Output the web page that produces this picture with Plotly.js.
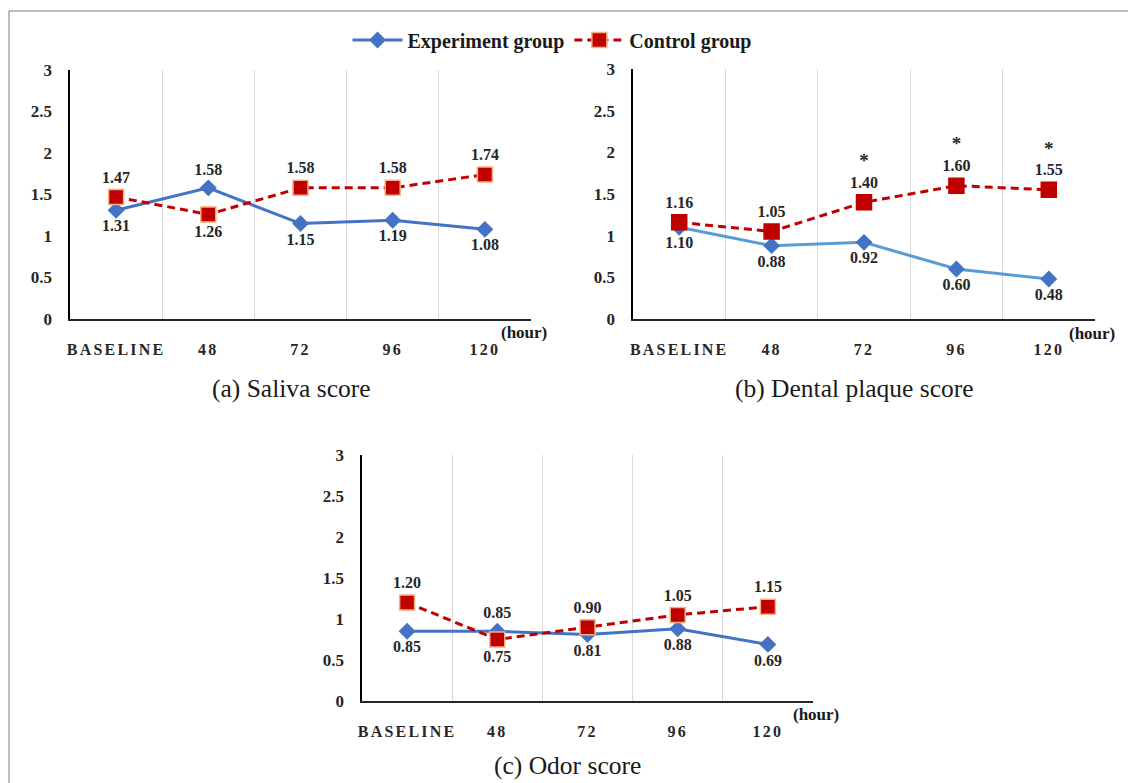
<!DOCTYPE html>
<html>
<head>
<meta charset="utf-8">
<script src="https://cdn.plot.ly/plotly-3.0.1.min.js"></script>
<style>
  html, body { margin: 0; padding: 0; background: #fff; }
  #chart { width: 1128px; height: 783px; }
  .xtick text, .x2tick text, .x3tick text { letter-spacing: 2.2px; }
</style>
</head>
<body>
<div id="chart"></div>
<script>
// ---- data ----
const categories = ["BASELINE", "48", "72", "96", "120"];
const salivaExp  = [1.31, 1.58, 1.15, 1.19, 1.08];
const salivaCtrl = [1.47, 1.26, 1.58, 1.58, 1.74];
const plaqueExp  = [1.10, 0.88, 0.92, 0.60, 0.48];
const plaqueCtrl = [1.16, 1.05, 1.40, 1.60, 1.55];
const plaqueSig  = ["", "", "*", "*", "*"];
const odorExp    = [0.85, 0.85, 0.81, 0.88, 0.69];
const odorCtrl   = [1.20, 0.75, 0.90, 1.05, 1.15];
const yTickVals  = [0, 0.5, 1, 1.5, 2, 2.5, 3];
const yTickText  = ["0", "0.5", "1", "1.5", "2", "2.5", "3"];
const seriesNames = ["Experiment group", "Control group"];
const panelTitles = ["(a) Saliva score", "(b) Dental plaque score", "(c) Odor score"];
const unitLabel = "(hour)";

// ---- label placement (style) ----
const T = "top center", B = "bottom center";
const posA = { exp: [B, T, B, B, B], ctrl: [T, B, T, T, T] };
const posB = { exp: [B, B, B, B, B], ctrl: [T, T, T, T, T] };
const posC = { exp: [B, T, B, B, B], ctrl: [T, B, T, T, T] };

const serif = "Liberation Serif, Times New Roman, serif";
const labelFont = { family: serif, size: 16, color: "#262626", weight: "bold" };

function fmt(arr) { return arr.map(v => v.toFixed(2)); }

function expTrace(vals, pos, ax, lineColor, show) {
  return {
    x: categories, y: vals, xaxis: "x" + ax, yaxis: "y" + ax,
    type: "scatter", mode: "lines+markers+text",
    name: seriesNames[0], showlegend: show, legendrank: 1,
    line: { color: lineColor, width: 3 },
    marker: { symbol: "diamond", size: 13, color: "#4472C4", line: { width: 0 } },
    text: fmt(vals), textposition: pos, textfont: labelFont,
    cliponaxis: false, hoverinfo: "x+y"
  };
}
function ctrlTrace(vals, pos, ax, border, show, sig) {
  const txt = fmt(vals).map((t, i) => (sig && sig[i]) ? "<span style='font-size:19px'>" + sig[i] + "</span><br>" + t : t);
  return {
    x: categories, y: vals, xaxis: "x" + ax, yaxis: "y" + ax,
    type: "scatter", mode: "lines+markers+text",
    name: seriesNames[1], showlegend: show, legendrank: 2,
    line: { color: "#C00000", width: 3, dash: "8px,5px" },
    marker: { symbol: "square", size: 15, color: "#C00000", line: { color: border, width: 1.5 } },
    text: txt, textposition: pos, textfont: labelFont,
    cliponaxis: false, hoverinfo: "x+y"
  };
}

const data = [
  expTrace(salivaExp, posA.exp, "", "#4472C4", true),
  ctrlTrace(salivaCtrl, posA.ctrl, "", "#F4B183", true, null),
  expTrace(plaqueExp, posB.exp, "2", "#5B9BD5", false),
  ctrlTrace(plaqueCtrl, posB.ctrl, "2", "#C00000", false, plaqueSig),
  expTrace(odorExp, posC.exp, "3", "#4472C4", false),
  ctrlTrace(odorCtrl, posC.ctrl, "3", "#F4B183", false, null)
];

function xAxis(domain, anchor) {
  return {
    domain: domain, anchor: anchor, type: "category",
    categoryorder: "array", categoryarray: categories,
    range: [-0.5, 4.5], tickson: "boundaries",
    showgrid: true, gridcolor: "#D9D9D9", gridwidth: 1,
    showline: true, linecolor: "#262626", linewidth: 2,
    ticks: "", ticklabelstandoff: 15,
    tickfont: { family: serif, size: 16, color: "#262626", weight: "bold" },
    zeroline: false, fixedrange: true
  };
}
function yAxis(domain, anchor) {
  return {
    domain: domain, anchor: anchor, range: [0, 3],
    tickvals: yTickVals, ticktext: yTickText,
    showgrid: false, zeroline: false,
    showline: true, linecolor: "#000000", linewidth: 2.5,
    ticks: "", ticklabelstandoff: 12,
    tickfont: { family: serif, size: 17, color: "#262626", weight: "bold" },
    fixedrange: true
  };
}

const W = 1128, H = 783;
const px = v => v / W, py = v => 1 - v / H;
const titleFont = { family: serif, size: 25.5, color: "#1a1a1a" };
const unitFont = { family: serif, size: 17, color: "#1a1a1a", weight: "bold" };

const layout = {
  width: W, height: H,
  margin: { l: 0, r: 0, t: 0, b: 0 },
  paper_bgcolor: "#fff", plot_bgcolor: "rgba(0,0,0,0)",
  showlegend: true,
  legend: {
    orientation: "h", x: px(552), xanchor: "center", y: py(40), yanchor: "middle",
    font: { family: serif, size: 20, color: "#1a1a1a", weight: "bold" },
    itemwidth: 50, tracegroupgap: 0, bgcolor: "rgba(0,0,0,0)"
  },
  xaxis:  xAxis([px(70), px(531)], "y"),
  yaxis:  yAxis([py(319), py(70)], "x"),
  xaxis2: xAxis([px(633), px(1095)], "y2"),
  yaxis2: yAxis([py(319), py(69)], "x2"),
  xaxis3: xAxis([px(362), px(813)], "y3"),
  yaxis3: yAxis([py(701), py(455)], "x3"),
  annotations: [
    { text: panelTitles[0], x: px(291), y: py(388), xref: "paper", yref: "paper", showarrow: false,
      xanchor: "center", yanchor: "middle", font: titleFont },
    { text: panelTitles[1], x: px(854), y: py(388), xref: "paper", yref: "paper", showarrow: false,
      xanchor: "center", yanchor: "middle", font: titleFont },
    { text: panelTitles[2], x: px(567), y: py(782), xref: "paper", yref: "paper", showarrow: false,
      xanchor: "center", yanchor: "bottom", font: titleFont },
    { text: unitLabel, x: px(524), y: py(332), xref: "paper", yref: "paper", showarrow: false,
      xanchor: "center", yanchor: "middle", font: unitFont },
    { text: unitLabel, x: px(1092), y: py(333), xref: "paper", yref: "paper", showarrow: false,
      xanchor: "center", yanchor: "middle", font: unitFont },
    { text: unitLabel, x: px(816), y: py(714), xref: "paper", yref: "paper", showarrow: false,
      xanchor: "center", yanchor: "middle", font: unitFont }
  ],
  shapes: [
    { type: "line", xref: "paper", yref: "paper", x0: px(9), x1: 1, y0: py(11), y1: py(11),
      line: { color: "#A6A6A6", width: 1.5 } },
    { type: "line", xref: "paper", yref: "paper", x0: px(9), x1: px(9), y0: py(11), y1: 0,
      line: { color: "#A6A6A6", width: 1.5 } }
  ]
};

Plotly.newPlot("chart", data, layout, { displayModeBar: false, staticPlot: true });
</script>
</body>
</html>
